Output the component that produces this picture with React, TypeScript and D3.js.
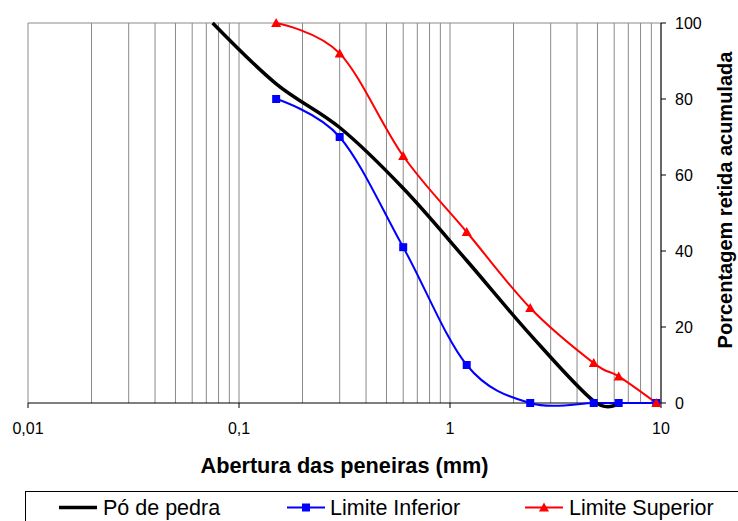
import React from "react";
import * as d3 from "d3";

// sieve openings (mm)
const sievesPo = [0.075, 0.15, 0.3, 0.6, 1.2, 2.4, 4.8, 6.3];
const poDePedra = [100, 84, 72.5, 56.5, 37.5, 18, 0.5, 0];

const sievesLim = [0.15, 0.3, 0.6, 1.2, 2.4, 4.8, 6.3, 9.5];
const limiteInferior = [80, 70, 41, 10, 0, 0, 0, 0];
const limiteSuperior = [100, 92, 65, 45, 25, 10.5, 7, 0];

const yTicks = [0, 20, 40, 60, 80, 100];
const xTicks = [0.01, 0.1, 1, 10];
const xTickLabels = ["0,01", "0,1", "1", "10"];

const W = 738;
const H = 521;
const margin = { top: 23, right: 77, bottom: 118, left: 28 };
const FONT = "'Liberation Sans', Arial, sans-serif";

export default function App() {
  const x = d3
    .scaleLog()
    .domain([0.01, 10])
    .range([margin.left, W - margin.right]);
  const y = d3
    .scaleLinear()
    .domain([0, 100])
    .range([H - margin.bottom, margin.top]);

  const x0 = x.range()[0];
  const x1 = x.range()[1];
  const yTop = y(100);
  const yBot = y(0);

  // minor grid: 1..9 in every decade
  const grid: number[] = [];
  [0.01, 0.1, 1].forEach((d) => {
    for (let k = 1; k < 10; k++) grid.push(d * k);
  });

  // excel-like smoothed line
  const line = d3
    .line<[number, number]>()
    .x((d) => x(d[0]))
    .y((d) => y(d[1]))
    .curve(d3.curveCardinal.tension(0));

  const po = sievesPo.map((s, i) => [s, poDePedra[i]] as [number, number]);
  const inf = sievesLim.map((s, i) => [s, limiteInferior[i]] as [number, number]);
  const sup = sievesLim.map((s, i) => [s, limiteSuperior[i]] as [number, number]);

  const tri = (cx: number, cy: number, r: number) =>
    `M${cx},${cy - r}L${cx + r},${cy + r * 0.8}L${cx - r},${cy + r * 0.8}Z`;

  return (
    <svg
      width={W}
      height={H}
      style={{ position: "absolute", left: 0, top: 0, background: "#fff" }}
      fontFamily={FONT}
    >
      {/* vertical grid */}
      {grid.map((g) => (
        <line key={g} x1={x(g)} x2={x(g)} y1={yTop} y2={yBot} stroke="#8a8a8a" strokeWidth={1} />
      ))}
      <line x1={x0} x2={x1} y1={yTop} y2={yTop} stroke="#8a8a8a" strokeWidth={1} />

      {/* bottom axis */}
      <line x1={x0} x2={x1} y1={yBot} y2={yBot} stroke="#000" strokeWidth={1.2} />
      {xTicks.map((t, i) => (
        <g key={t}>
          <line x1={x(t)} x2={x(t)} y1={yBot} y2={yBot + 5} stroke="#000" />
          <text x={x(t)} y={434} fontSize={16} textAnchor="middle" fill="#000">
            {xTickLabels[i]}
          </text>
        </g>
      ))}

      {/* right axis */}
      <line x1={x1} x2={x1} y1={yTop} y2={yBot} stroke="#000" strokeWidth={1.2} />
      {yTicks.map((t) => (
        <g key={t}>
          <line x1={x1} x2={x1 + 5} y1={y(t)} y2={y(t)} stroke="#000" />
          <text x={675} y={y(t) + 6} fontSize={16} fill="#000">
            {t}
          </text>
        </g>
      ))}

      {/* series */}
      <path d={line(sup) || ""} fill="none" stroke="#ff0000" strokeWidth={2} />
      <path d={line(inf) || ""} fill="none" stroke="#0000ff" strokeWidth={2} />
      <path d={line(po) || ""} fill="none" stroke="#000" strokeWidth={3.5} />
      {inf.map((d, i) => (
        <rect key={i} x={x(d[0]) - 4} y={y(d[1]) - 4} width={8} height={8} fill="#0000ff" />
      ))}
      {sup.map((d, i) => (
        <path key={i} d={tri(x(d[0]), y(d[1]), 5)} fill="#ff0000" />
      ))}

      {/* titles */}
      <text
        x={(x0 + x1) / 2}
        y={473}
        fontSize={21.7}
        fontWeight="bold"
        textAnchor="middle"
        fill="#000"
      >
        Abertura das peneiras (mm)
      </text>
      <text
        transform={`translate(732, 200) rotate(-90)`}
        fontSize={20}
        fontWeight="bold"
        textAnchor="middle"
        fill="#000"
      >
        Porcentagem retida acumulada
      </text>

      {/* legend */}
      <rect x={25.5} y={491.5} width={760} height={60} fill="none" stroke="#000" strokeWidth={1} />
      <line x1={59} x2={97} y1={507.5} y2={507.5} stroke="#000" strokeWidth={3.5} />
      <text x={103} y={515} fontSize={21.5} fill="#000">
        Pó de pedra
      </text>
      <line x1={287} x2={325} y1={507.5} y2={507.5} stroke="#0000ff" strokeWidth={2} />
      <rect x={302} y={503.5} width={8} height={8} fill="#0000ff" />
      <text x={330} y={515} fontSize={21.5} fill="#000">
        Limite Inferior
      </text>
      <line x1={525} x2={563} y1={507.5} y2={507.5} stroke="#ff0000" strokeWidth={2} />
      <path d={tri(544, 507.5, 5)} fill="#ff0000" />
      <text x={569} y={515} fontSize={21.5} fill="#000">
        Limite Superior
      </text>
    </svg>
  );
}
